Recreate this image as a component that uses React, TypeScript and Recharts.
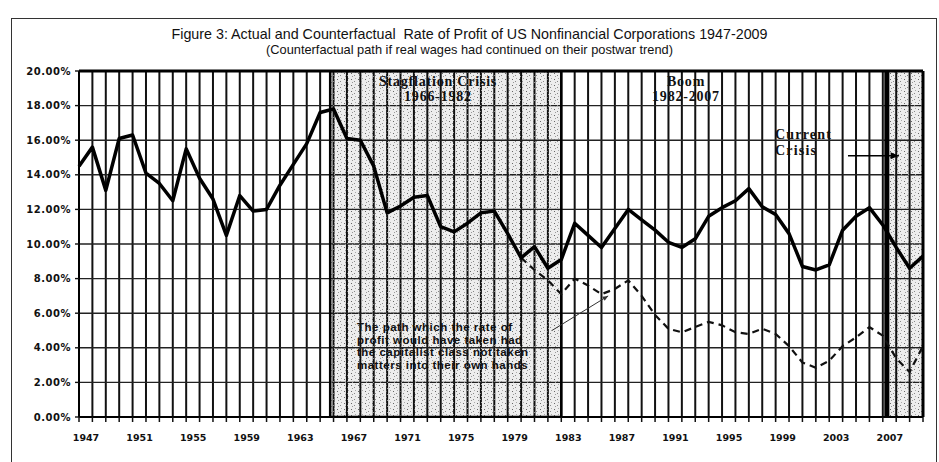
import React from "react";
import {
  LineChart,
  Line,
  XAxis,
  YAxis,
  CartesianGrid,
  ReferenceArea,
  ReferenceLine,
} from "recharts";

// one entry per year on the chart
const years = [
  1947, 1948, 1949, 1950, 1951, 1952, 1953, 1954, 1955, 1956, 1957, 1958, 1959, 1960, 1961, 1962,
  1963, 1964, 1965, 1966, 1967, 1968, 1969, 1970, 1971, 1972, 1973, 1974, 1975, 1976, 1977, 1978,
  1979, 1980, 1981, 1982, 1983, 1984, 1985, 1986, 1987, 1988, 1989, 1990, 1991, 1992, 1993, 1994,
  1995, 1996, 1997, 1998, 1999, 2000, 2001, 2002, 2003, 2004, 2005, 2006, 2007, 2008, 2009, 2010,
];

// actual rate of profit, %
const actualRate = [
  14.5, 15.6, 13.1, 16.1, 16.3, 14.1, 13.5, 12.5, 15.5, 13.8, 12.6, 10.5, 12.8, 11.9, 12.0, 13.4,
  14.6, 15.8, 17.6, 17.8, 16.1, 16.0, 14.5, 11.8, 12.2, 12.7, 12.8, 11.0, 10.7, 11.2, 11.8, 11.9,
  10.6, 9.2, 9.85, 8.6, 9.1, 11.2, 10.5, 9.8, 10.9, 12.0, 11.4, 10.8, 10.1, 9.8, 10.3, 11.6,
  12.1, 12.5, 13.2, 12.15, 11.7, 10.6, 8.7, 8.5, 8.8, 10.8, 11.6, 12.1, 11.1, 9.8, 8.6, 9.3,
];

// counterfactual path, starts in 1980
const counterfactualStart = 1980;
const counterfactualRate = [
  9.2, 8.5, 7.9, 7.1, 8.0, 7.6, 7.1, 7.4, 7.9, 7.0, 5.9, 5.1, 4.9, 5.2, 5.5, 5.3,
  4.9, 4.8, 5.1, 4.8, 4.1, 3.15, 2.85, 3.25, 4.1, 4.6, 5.2, 4.7, 3.4, 2.6, 4.1,
];

const labelYears = [1947, 1951, 1955, 1959, 1963, 1967, 1971, 1975, 1979, 1983, 1987, 1991, 1995, 1999, 2003, 2007];
const yTicks = [0, 2, 4, 6, 8, 10, 12, 14, 16, 18, 20];

const stagflation = [1965.75, 1983];
const currentCrisis = [2007.3, 2010];

const data = years.map((year, i) => {
  const j = year - counterfactualStart;
  return {
    year,
    actual: actualRate[i],
    counterfactual: j >= 0 && j < counterfactualRate.length ? counterfactualRate[j] : null,
  };
});

const Arrow = (props: any) => {
  const { x1, y1, x2, y2, stroke = "#000", strokeWidth = 1, head = 7 } = props;
  if (x1 == null || x2 == null) return null;
  const a = Math.atan2(y2 - y1, x2 - x1);
  const hx1 = x2 - head * Math.cos(a - 0.4);
  const hy1 = y2 - head * Math.sin(a - 0.4);
  const hx2 = x2 - head * Math.cos(a + 0.4);
  const hy2 = y2 - head * Math.sin(a + 0.4);
  return (
    <g>
      <line x1={x1} y1={y1} x2={x2} y2={y2} stroke={stroke} strokeWidth={strokeWidth} />
      <polygon points={`${x2},${y2} ${hx1},${hy1} ${hx2},${hy2}`} fill={stroke} />
    </g>
  );
};

const serifLabel: React.CSSProperties = {
  position: "absolute",
  fontFamily: "'Liberation Serif', 'DejaVu Serif', serif",
  fontWeight: 700,
  fontSize: 14,
  lineHeight: "15px",
  color: "#111",
  letterSpacing: 0.8,
  pointerEvents: "none",
};

export default function App() {
  return (
    <div
      style={{
        position: "absolute",
        left: 0,
        top: 0,
        width: 939,
        height: 462,
        background: "#fff",
        overflow: "hidden",
        fontFamily: "'Liberation Sans', Arial, sans-serif",
      }}
    >
      <div
        style={{
          position: "absolute",
          left: 11,
          top: 18,
          width: 926,
          height: 470,
          border: "1.5px solid #333",
          boxSizing: "border-box",
        }}
      />
      <div
        style={{
          position: "absolute",
          left: 0,
          top: 26,
          width: 939,
          textAlign: "center",
          lineHeight: "16px",
          color: "#111",
        }}
      >
        <div style={{ fontSize: 14.3 }}>
          Figure 3: Actual and Counterfactual&nbsp; Rate of Profit of US Nonfinancial Corporations 1947-2009
        </div>
        <div style={{ fontSize: 12.8 }}>
          (Counterfactual path if real wages had continued on their postwar trend)
        </div>
      </div>

      <div style={{ position: "absolute", left: 0, top: 0 }}>
        <LineChart
          width={939}
          height={462}
          data={data}
          margin={{ top: 71, right: 16, bottom: 14, left: 19 }}
        >
          <defs>
            <pattern id="stipple" width="7" height="6" patternUnits="userSpaceOnUse">
              <rect width="7" height="6" fill="#000" fillOpacity="0.07" />
              <rect x="1" y="1" width="1" height="1" fill="#666" />
              <rect x="4" y="3" width="1" height="1" fill="#888" />
              <rect x="2" y="4" width="1" height="1" fill="#999" />
              <rect x="5" y="0" width="1" height="1" fill="#aaa" />
            </pattern>
          </defs>
          <ReferenceArea
            x1={stagflation[0]}
            x2={stagflation[1]}
            y1={0}
            y2={20}
            fill="url(#stipple)"
            fillOpacity={1}
            stroke="#000"
            strokeWidth={2.5}
            ifOverflow="hidden"
          />
          <ReferenceArea
            x1={currentCrisis[0]}
            x2={currentCrisis[1]}
            y1={0}
            y2={20}
            fill="url(#stipple)"
            fillOpacity={1}
            stroke="none"
            ifOverflow="hidden"
          />
          <CartesianGrid horizontal={false} stroke="#111" strokeWidth={2} />
          <CartesianGrid vertical={false} stroke="#222" strokeWidth={1.4} />
          <XAxis
            dataKey="year"
            type="number"
            domain={[1947, 2010]}
            ticks={years}
            interval={0}
            tickFormatter={(v: number) => (labelYears.includes(v) ? String(v) : "")}
            tick={{ fill: "#111", fontSize: 9.5, fontWeight: 700, fontFamily: "'DejaVu Sans', sans-serif", dx: 7 }}
            tickSize={5}
            tickMargin={12}
            tickLine={{ stroke: "#111", strokeWidth: 1.5 }}
            axisLine={{ stroke: "#000", strokeWidth: 2 }}
            height={31}
          />
          <YAxis
            type="number"
            domain={[0, 20]}
            ticks={yTicks}
            interval={0}
            tickFormatter={(v: number) => v.toFixed(2) + "%"}
            tick={{ fill: "#111", fontSize: 10, fontWeight: 700, fontFamily: "'DejaVu Sans', sans-serif", letterSpacing: 0.5 }}
            tickSize={4}
            tickMargin={4}
            tickLine={{ stroke: "#111", strokeWidth: 1.4 }}
            axisLine={{ stroke: "#000", strokeWidth: 2 }}
            width={60}
          />
          <ReferenceLine y={20} stroke="#000" strokeWidth={3} />
          <ReferenceLine x={2010} stroke="#000" strokeWidth={3} />
          <ReferenceLine x={currentCrisis[0]} stroke="#000" strokeWidth={5} />
          <ReferenceLine
            segment={[
              { x: 1982.3, y: 5.0 },
              { x: 1986.5, y: 7.0 },
            ]}
            shape={(p: any) => <Arrow {...p} stroke="#333" strokeWidth={1} head={6} />}
          />
          <ReferenceLine
            segment={[
              { x: 2004.4, y: 15.1 },
              { x: 2008.2, y: 15.1 },
            ]}
            shape={(p: any) => <Arrow {...p} stroke="#000" strokeWidth={1.6} head={9} />}
          />
          <Line
            type="linear"
            dataKey="counterfactual"
            stroke="#111"
            strokeWidth={2.2}
            strokeDasharray="7 5"
            dot={false}
            connectNulls={false}
            isAnimationActive={false}
          />
          <Line
            type="linear"
            dataKey="actual"
            stroke="#000"
            strokeWidth={3.5}
            strokeLinejoin="round"
            dot={false}
            isAnimationActive={false}
          />
        </LineChart>
      </div>

      <div style={{ ...serifLabel, left: 338, top: 74, width: 200, textAlign: "center" }}>
        Stagflation Crisis
        <br />
        1966-1982
      </div>
      <div style={{ ...serifLabel, left: 586, top: 74, width: 200, textAlign: "center" }}>
        Boom
        <br />
        1982-2007
      </div>
      <div style={{ ...serifLabel, left: 775, top: 127, lineHeight: "16px", letterSpacing: 1.2 }}>
        Current
        <br />
        Crisis
      </div>
      <div
        style={{
          position: "absolute",
          left: 357,
          top: 321,
          fontSize: 11.5,
          fontWeight: 700,
          lineHeight: "12.7px",
          letterSpacing: 0.5,
          color: "#111",
          whiteSpace: "nowrap",
        }}
      >
        The path which the rate of
        <br />
        profit would have taken had
        <br />
        the capitalist class not taken
        <br />
        matters into their own hands
      </div>
    </div>
  );
}
